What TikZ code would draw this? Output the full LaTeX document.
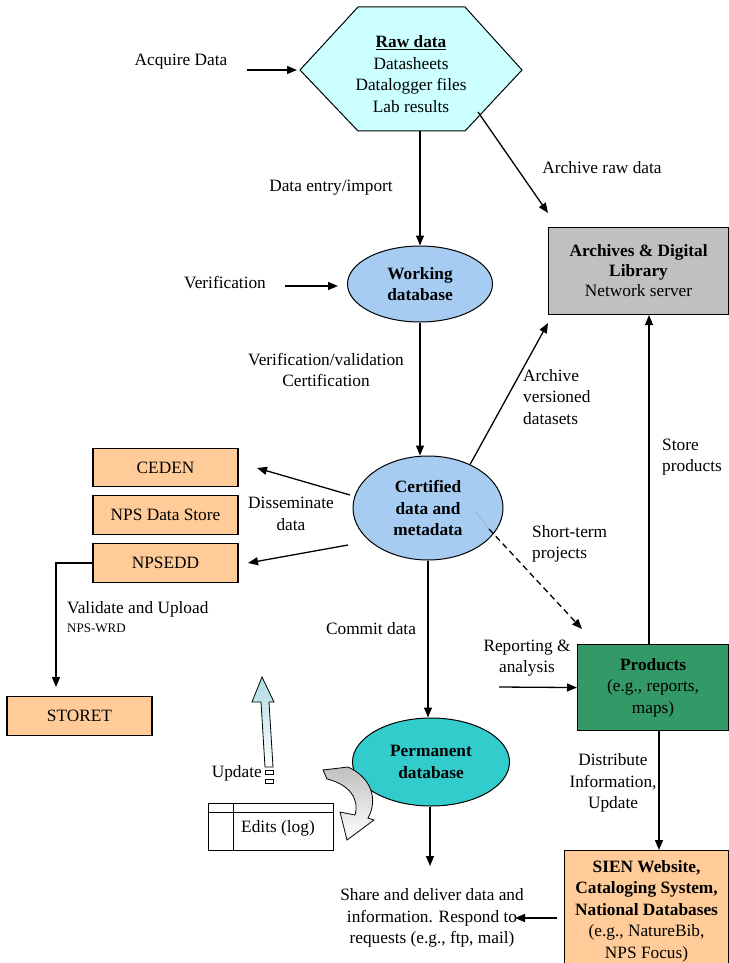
\documentclass[tikz,border=0pt]{standalone}
\usepackage{fontspec}
\setmainfont{Liberation Serif}
\usetikzlibrary{shapes.geometric,arrows.meta}
\definecolor{hexfill}{RGB}{204,255,255}
\definecolor{dbblue}{RGB}{166,204,242}
\definecolor{archgray}{RGB}{192,192,192}
\definecolor{peach}{RGB}{255,204,153}
\definecolor{prodgreen}{RGB}{51,153,102}
\definecolor{permteal}{RGB}{51,204,204}
\definecolor{updcyan}{RGB}{172,220,226}
\tikzset{
  every node/.style={font=\fontsize{17.3}{21.5}\selectfont},
  lbl/.style={align=center, inner sep=0},
  lbll/.style={align=left, inner sep=0, anchor=west},
  arr/.style={-{Triangle[length=10pt,width=8pt]}, line width=1.3pt},
  dbell/.style={ellipse, draw, line width=1pt, inner sep=0, align=center,
    font=\fontsize{17.3}{21.5}\selectfont\bfseries},
  box/.style={draw, line width=1.1pt, inner sep=0, align=center},
  peachbox/.style={box, fill=peach, minimum width=145, minimum height=38.5},
}
\begin{document}
\begin{tikzpicture}[x=1pt,y=-1pt]
\useasboundingbox (0,0) rectangle (728,963);

% raw data hexagon
\coordinate (hexW) at (300,70);
\coordinate (hexS) at (420,131);
\coordinate (hexSE) at (478,112);
\draw[fill=hexfill, line width=1pt] (300,70) -- (358,7) -- (465,7) -- (522,70)
  -- (465,131) -- (358,131) -- cycle;
\node[lbl] (raw) at (411,74) {\underline{\textbf{Raw data}}\\Datasheets\\Datalogger files\\Lab results};

% databases
\node[dbell, fill=dbblue, minimum width=145, minimum height=76] (work) at (420,284) {Working\\database};
\node[dbell, fill=dbblue, minimum width=150, minimum height=104] (cert) at (428,508) {Certified\\data and\\metadata};
\node[dbell, fill=permteal, minimum width=157, minimum height=88] (perm) at (431,762) {Permanent\\database};

% archive, products, web
\node[box, fill=archgray, minimum width=180, minimum height=87, anchor=north west] (arch) at (548,227)
  {\textbf{Archives \& Digital}\\[-1.5pt]\textbf{Library}\\[-1.5pt]Network server};
\node[box, fill=prodgreen, minimum width=151, minimum height=86, anchor=north west] (prod) at (577,644)
  {\textbf{Products}\\(e.g., reports,\\maps)};
\node[box, fill=peach, minimum width=164, minimum height=121, anchor=north west] (sien) at (564,850)
  {\textbf{SIEN Website,}\\\textbf{Cataloging System,}\\\textbf{National Databases}\\(e.g., NatureBib,\\NPS Focus)};

% external data stores
\node[peachbox] (ceden) at (165.5,467.5) {CEDEN};
\node[peachbox] (npsds) at (165.5,515) {NPS Data Store};
\node[peachbox] (npsedd) at (165.5,563) {NPSEDD};
\node[peachbox] (storet) at (79.5,716) {STORET};

% labels
\node[lbl] (acq) at (181,62) {Acquire Data};
\node[lbl] (dentry) at (331,188) {Data entry/import};
\node[lbl] (archraw) at (602,168) {Archive raw data};
\node[lbl] (verif) at (225,283) {Verification};
\node[lbl] (vv) at (326,370) {Verification/validation\\Certification};
\node[lbll] (avd) at (523,397) {Archive\\versioned\\datasets};
\node[lbl] (diss) at (291,514) {Disseminate\\data};
\node[lbll] (stp) at (532,544) {Short-term\\projects};
\node[lbll] (valid) at (67,609) {Validate and Upload};
\node[lbll, font=\fontsize{13}{15}\selectfont] (wrd) at (67,628) {NPS-WRD};
\node[lbl] (commit) at (371,629) {Commit data};
\node[lbl] (rep) at (527,658) {Reporting \&\\analysis};
\node[lbll] (store) at (662,457) {Store\\products};
\node[lbl] (dist) at (613,783) {Distribute\\Information,\\Update};
\node[lbl, anchor=east] (upd) at (262,773) {Update};
\node[lbl] (share) at (432,918) {Share and deliver data and\\information. Respond to\\requests (e.g., ftp, mail)};

% edits log table
\node[draw, line width=0.9pt, minimum width=125, minimum height=47, anchor=north west, inner sep=0] (edits) at (208,803) {};
\draw[line width=0.9pt] ([yshift=-9pt]edits.north west) -- ([yshift=-9pt]edits.north east);
\draw[line width=0.9pt] ([xshift=25pt]edits.north west) -- ([xshift=25pt]edits.south west);
\node[lbl] (editsT) at (278,828) {Edits (log)};

% update block arrow
\shade[top color=updcyan, bottom color=white, draw=black, line width=0.8pt]
  (262,677) -- (274,702) -- (269,702) -- (273,767) -- (265,767) -- (261,702) -- (252,702) -- cycle;
\draw[line width=0.8pt] (265,770) rectangle (273,774.5);
\draw[line width=0.8pt] (265,779) rectangle (273,783);

% curved block arrow toward the log
\shade[top color=black!25, bottom color=white, middle color=black!12, draw=black, line width=0.8pt]
  (323,770) -- (348,767) .. controls (372,778) and (378,800) .. (368,818)
  -- (374,820) -- (347,840) -- (340,812) -- (355,815)
  .. controls (360,798) and (348,784) .. (327,779) -- cycle;

% free ends of connectors
\coordinate (acqA) at (247,70);
\coordinate (archTip1) at (548,213);
\coordinate (verifA) at (285,286);
\coordinate (archTip2) at (548,323);
\coordinate (dissA) at (350,495);
\coordinate (dissB) at (348,545);
\coordinate (dissT1) at (257,468);
\coordinate (dissT2) at (248,563);
\coordinate (valTip) at (56,687);
\coordinate (stA) at (476,512);
\coordinate (stB) at (489,529);
\coordinate (stTip) at (582,629);
\coordinate (shareTip) at (430,866);
\coordinate (sienA) at (557,918);
\coordinate (shareB) at (515,918);
\coordinate (repA) at (499,687);
\coordinate (storeX) at (649,0);
\coordinate (distX) at (659,0);

% connectors
\draw[arr] (acqA) -- ([xshift=-3pt]hexW);
\draw[arr] (hexS) -- (hexS |- work.north);
\draw[arr] (hexSE) -- (archTip1);
\draw[arr, shorten >=9pt] (verifA) -- (work.west |- verifA);
\draw[arr] (work.south) -- (cert.north -| work.south);
\draw[arr] (cert.46) -- (archTip2);
\draw[arr] (dissA) -- (dissT1);
\draw[arr] (dissB) -- (dissT2);
\draw[arr] (npsedd.west) -| (valTip);
\draw[line width=0.5pt, draw=black!35] (stA) -- (stB);
\draw[arr, dashed, dash pattern=on 6pt off 4pt] (stB) -- (stTip);
\draw[arr] (cert.south) -- (cert.south |- perm.north);
\draw[arr] (perm.south -| shareTip) -- (shareTip);
\draw[arr] (sienA) -- (shareB);
\draw[arr] (repA) -- (prod.west);
\draw[arr] (prod.north -| storeX) -- (arch.south -| storeX);
\draw[arr] (prod.south -| distX) -- (sien.north -| distX);
\end{tikzpicture}
\end{document}
